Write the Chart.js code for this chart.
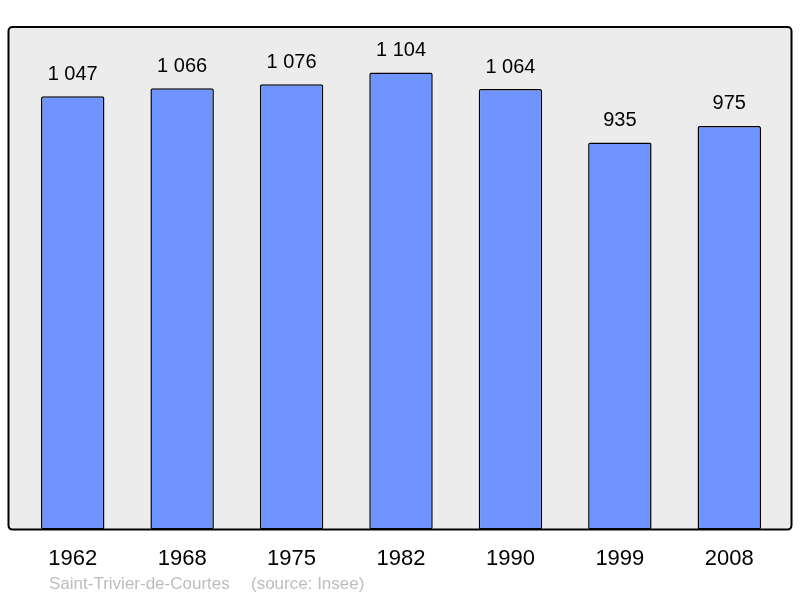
<!DOCTYPE html>
<html>
<head>
<meta charset="utf-8">
<script src="https://cdn.jsdelivr.net/npm/chart.js@4"></script>
<style>
  html, body { margin: 0; padding: 0; background: #fff; }
  #wrap { width: 800px; height: 598px; }
</style>
</head>
<body>
<div id="wrap"><canvas id="popChart" width="800" height="598"></canvas></div>
<script>
// données du graphique
const years = ['1962', '1968', '1975', '1982', '1990', '1999', '2008'];
const population = [1047, 1066, 1076, 1104, 1064, 935, 975];
const townName = 'Saint-Trivier-de-Courtes';
const sourceText = '(source: Insee)';

function formatNumber(v) {
    return String(v).replace(/\B(?=(\d{3})+(?!\d))/g, ' ');
}

// fond gris + cadre noir autour de la zone des barres
const framePlugin = {
    id: 'frame',
    beforeDatasetsDraw(chart) {
        const a = chart.chartArea;
        const ctx = chart.ctx;
        const x = a.left - 9.5, y = a.top, w = a.right - a.left + 17, h = a.bottom - a.top;
        ctx.save();
        ctx.beginPath();
        ctx.roundRect(x, y, w, h, 4);
        ctx.fillStyle = '#ececec';
        ctx.fill();
        ctx.lineWidth = 2;
        ctx.strokeStyle = '#000';
        ctx.stroke();
        ctx.restore();
    },
    afterDatasetsDraw(chart) {
        const ctx = chart.ctx;
        const meta = chart.getDatasetMeta(0);
        ctx.save();
        ctx.font = '20px "Liberation Sans", Arial, sans-serif';
        ctx.fillStyle = '#000';
        ctx.textAlign = 'center';
        ctx.textBaseline = 'middle';
        meta.data.forEach((bar, i) => {
            ctx.fillText(formatNumber(population[i]), bar.x, bar.y - 22);
        });
        // pied de page
        ctx.font = '17px "Liberation Sans", Arial, sans-serif';
        ctx.fillStyle = '#bdbdbd';
        ctx.textAlign = 'left';
        ctx.fillText(townName, 49, 584);
        ctx.fillText(sourceText, 251, 584);
        ctx.restore();
    }
};

new Chart(document.getElementById('popChart'), {
    type: 'bar',
    data: {
        labels: years,
        datasets: [{
            data: population,
            backgroundColor: '#7094ff',
            borderColor: '#000',
            borderWidth: 1.5,
            borderRadius: 2,
            borderSkipped: false,
            barPercentage: 0.58,
            categoryPercentage: 1
        }]
    },
    options: {
        responsive: false,
        animation: false,
        layout: { padding: { left: 18, right: 16, top: 27, bottom: 18 } },
        scales: {
            x: {
                grid: { display: false },
                border: { display: false },
                ticks: {
                    color: '#000',
                    padding: 8,
                    font: { size: 22, family: '"Liberation Sans", Arial, sans-serif' }
                }
            },
            y: { display: false, min: 0, max: 1214 }
        },
        plugins: {
            legend: { display: false },
            tooltip: { enabled: false }
        }
    },
    plugins: [framePlugin]
});
</script>
</body>
</html>
